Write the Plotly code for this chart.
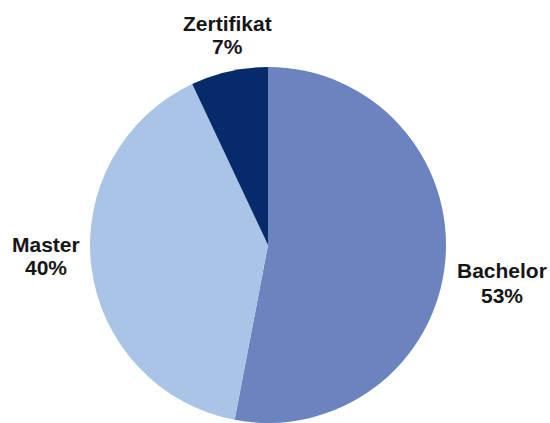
import plotly.graph_objects as go

categories = ["Bachelor", "Master", "Zertifikat"]
values = [53, 40, 7]
percent_labels = ["53%", "40%", "7%"]
colors = ["#6B83BF", "#AAC4E8", "#062B6B"]

# label anchor points (pixel centres, from top-left) for each category
label_x = [502, 46, 227]
label_y1 = [270, 245, 24]
label_y2 = [295, 267, 46]

W, H = 550, 423
cx, cy, r = 268, 245, 178

fig = go.Figure(go.Pie(
    labels=categories,
    values=values,
    sort=False,
    direction="clockwise",
    rotation=0,
    marker=dict(colors=colors, line=dict(width=0)),
    textinfo="none",
    showlegend=False,
    hoverinfo="label+percent",
    domain=dict(x=[(cx - r) / W, (cx + r) / W], y=[max(0, (H - cy - r) / H), min(1, (H - cy + r) / H)]),
))

font = dict(family="Liberation Sans, Arial, sans-serif", size=21, color="#161616")
for name, pct, x, y1, y2 in zip(categories, percent_labels, label_x, label_y1, label_y2):
    fig.add_annotation(x=x / W, y=1 - y1 / H, xref="paper", yref="paper",
                       text="<b>" + name + "</b>", showarrow=False,
                       xanchor="center", yanchor="middle", font=font)
    fig.add_annotation(x=x / W, y=1 - y2 / H, xref="paper", yref="paper",
                       text="<b>" + pct + "</b>", showarrow=False,
                       xanchor="center", yanchor="middle", font=font)

fig.update_layout(
    width=W, height=H,
    margin=dict(l=0, r=0, t=0, b=0),
    paper_bgcolor="white",
    plot_bgcolor="white",
)

fig.write_html("out.html",
               config={"displayModeBar": False},
               post_script="document.body.style.margin='0';document.body.style.overflow='hidden';")
